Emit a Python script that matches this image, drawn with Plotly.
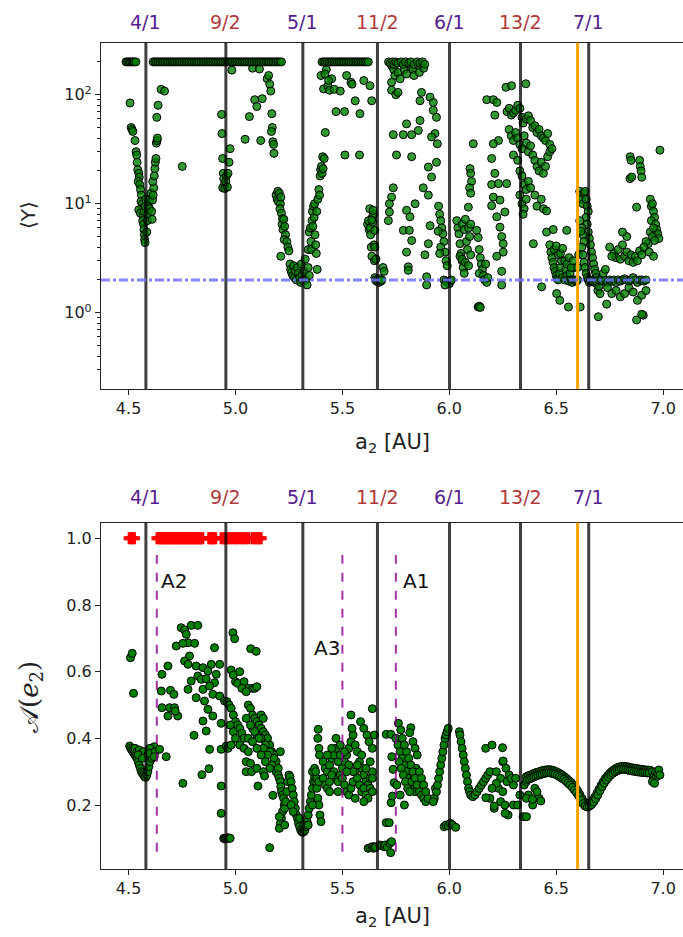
import plotly.graph_objects as go

# ---------------- data ----------------
res_labels = ["4/1", "9/2", "5/1", "11/2", "6/1", "13/2", "7/1"]
res_a = [4.581, 4.955, 5.315, 5.664, 6.001, 6.333, 6.652]
res_colors = ["#55208f", "#b03a3a", "#55208f", "#b03a3a", "#55208f", "#b03a3a", "#55208f"]
orange_a = [6.6]
y_level = [2.0]
anom_labels = ["A2", "A3", "A1"]
anom_a = [4.632, 5.5, 5.75]
anom_text_a = [4.64, 5.357, 5.774]
anom_text_v = [0.872, 0.672, 0.872]

# top panel: <Y> versus a2 (values at the 200 cap)
top_cap_a = [4.488, 4.495, 4.502, 4.508, 4.515, 4.521, 4.527, 4.534,
             4.615, 4.623, 4.631, 4.639, 4.647, 4.655, 4.663, 4.671, 4.679, 4.687, 4.695, 4.703,
             4.711, 4.719, 4.727, 4.735, 4.743, 4.751, 4.759, 4.767, 4.775, 4.783, 4.791, 4.799,
             4.807, 4.815, 4.823, 4.831, 4.839, 4.847, 4.855, 4.863, 4.871, 4.879, 4.887, 4.895,
             4.903, 4.911, 4.919, 4.927, 4.935, 4.943, 4.951, 4.959, 4.967, 4.975, 4.983, 4.991,
             4.999, 5.007, 5.015, 5.023, 5.031, 5.039, 5.047, 5.055, 5.063, 5.071, 5.079, 5.087,
             5.095, 5.103, 5.111, 5.119, 5.127, 5.135, 5.143, 5.151, 5.159, 5.167, 5.175, 5.183,
             5.191, 5.199, 5.207, 5.215,
             5.405, 5.413, 5.421, 5.429, 5.437, 5.445, 5.453, 5.461, 5.469, 5.477, 5.485, 5.493,
             5.501, 5.509, 5.517, 5.525, 5.533, 5.541, 5.549, 5.557, 5.565, 5.573, 5.581, 5.589,
             5.597, 5.605, 5.613, 5.621,
             5.716, 5.724, 5.735, 5.742, 5.75, 5.76, 5.775, 5.785, 5.795, 5.81, 5.82, 5.835,
             5.85, 5.862, 5.875, 5.885]
top_cap_v = [200, 200, 200, 200, 200, 200, 200, 200,
             200, 200, 200, 200, 200, 200, 200, 200, 200, 200, 200, 200,
             200, 200, 200, 200, 200, 200, 200, 200, 200, 200, 200, 200,
             200, 200, 200, 200, 200, 200, 200, 200, 200, 200, 200, 200,
             200, 200, 200, 200, 200, 200, 200, 200, 200, 200, 200, 200,
             200, 200, 200, 200, 200, 200, 200, 200, 200, 200, 200, 200,
             200, 200, 200, 200, 200, 200, 200, 200, 200, 200, 200, 200,
             200, 200, 200, 200,
             200, 200, 200, 200, 200, 200, 200, 200, 200, 200, 200, 200,
             200, 200, 200, 200, 200, 200, 200, 200, 200, 200, 200, 200,
             200, 200, 200, 200,
             200, 195, 200, 190, 200, 195, 200, 190, 200, 195, 200, 190,
             200, 195, 200, 190]

top_pts = [
    # around 4/1
    (4.507, 84), (4.512, 50), (4.516, 48), (4.52, 46), (4.53, 38), (4.535, 30), (4.538, 28),
    (4.54, 24), (4.543, 20.5), (4.548, 19), (4.55, 17.5), (4.545, 16), (4.552, 15), (4.556, 13.5),
    (4.56, 12), (4.558, 10.5), (4.565, 10), (4.562, 9), (4.548, 8.8), (4.555, 8.2), (4.568, 7.8),
    (4.566, 7), (4.57, 6.5), (4.572, 5.8), (4.574, 5.2), (4.575, 4.7), (4.577, 4.4), (4.573, 8.5),
    (4.578, 9.5), (4.58, 11), (4.585, 5.5), (4.588, 7), (4.59, 8), (4.592, 9.5), (4.595, 10.5),
    (4.598, 9), (4.60, 11), (4.605, 12.5), (4.61, 7.2), (4.608, 8.5), (4.612, 10.8), (4.615, 12),
    (4.618, 14), (4.613, 16), (4.62, 18), (4.623, 21), (4.625, 24), (4.628, 26), (4.63, 36),
    (4.633, 38), (4.635, 40), (4.632, 62), (4.638, 80), (4.652, 112), (4.668, 108), (4.751, 22),
    # around 9/2
    (4.935, 66), (4.937, 44), (4.94, 26), (4.943, 19), (4.945, 17), (4.948, 15), (4.94, 14),
    (4.95, 13.8), (4.955, 16), (4.958, 18), (4.962, 14.2), (4.965, 19), (4.97, 24), (4.975, 32),
    (4.983, 168), (5.045, 39), (5.065, 63), (5.08, 175), (5.09, 90), (5.1, 78), (5.112, 172),
    (5.118, 38), (5.125, 92), (5.148, 140), (5.16, 125), (5.165, 108), (5.17, 67), (5.172, 50),
    (5.168, 46), (5.175, 37), (5.178, 35), (5.18, 29), (5.155, 150),
    # around 5/1
    (5.19, 12), (5.195, 11), (5.2, 10.5), (5.198, 13), (5.205, 12.5), (5.21, 10), (5.212, 11.5),
    (5.208, 9), (5.215, 8.2), (5.22, 7.3), (5.218, 6.5), (5.222, 5.8), (5.226, 7.2), (5.23, 6.2),
    (5.234, 5.2), (5.228, 4.7), (5.24, 4.5), (5.245, 4), (5.25, 3.7), (5.212, 3.3), (5.255, 2.8),
    (5.258, 2.5), (5.262, 2.35), (5.268, 2.2), (5.272, 2.7), (5.276, 2.1), (5.28, 2.4),
    (5.285, 2.0), (5.29, 2.6), (5.295, 2.3), (5.3, 2.1), (5.305, 1.9), (5.308, 2.8), (5.312, 2.2),
    (5.315, 2.0), (5.318, 1.95), (5.322, 2.4), (5.326, 3.1), (5.33, 2.0), (5.335, 1.8),
    (5.34, 2.6), (5.345, 2.2), (5.34, 3.8), (5.345, 5.5), (5.35, 6), (5.353, 4.5), (5.355, 3.8),
    (5.358, 7), (5.36, 8.5), (5.362, 6.2), (5.365, 9.5), (5.368, 7.5), (5.37, 10), (5.372, 5.2),
    (5.375, 4.2), (5.378, 3.5), (5.38, 8.5), (5.382, 2.5), (5.385, 11), (5.39, 13.5), (5.393, 12),
    (5.396, 18), (5.398, 20.5), (5.402, 22), (5.405, 19), (5.408, 27), (5.41, 21), (5.415, 26),
    (5.42, 45), (5.412, 113), (5.4, 150), (5.425, 170),
    (5.418, 155), (5.432, 120), (5.44, 110), (5.45, 140), (5.462, 112), (5.47, 70), (5.49, 108),
    (5.51, 70), (5.512, 28), (5.52, 150), (5.54, 130), (5.545, 125), (5.56, 88), (5.435, 135),
    (5.6, 135), (5.629, 121), (5.582, 67), (5.637, 88), (5.58, 28),
    # around 11/2
    (5.618, 6.5), (5.622, 7), (5.625, 5.8), (5.628, 9), (5.63, 6), (5.632, 5.2), (5.635, 4),
    (5.638, 3.3), (5.64, 7.5), (5.642, 6.8), (5.645, 8), (5.648, 4.2), (5.65, 3.0), (5.652, 2.1),
    (5.655, 2.0), (5.66, 1.95), (5.665, 2.0), (5.67, 1.9), (5.675, 2.05), (5.68, 1.95),
    (5.685, 2.0), (5.69, 2.6), (5.695, 2.4), (5.644, 8.7), (5.637, 7.1), (5.652, 5.7),
    (5.652, 4.0), (5.657, 3.1),
    (5.73, 185), (5.74, 170), (5.745, 150), (5.73, 130), (5.76, 160), (5.77, 140), (5.79, 170),
    (5.8, 155), (5.82, 180), (5.83, 170), (5.835, 150), (5.855, 185), (5.86, 160), (5.88, 175),
    (5.73, 110), (5.75, 100), (5.76, 105), (5.8, 54), (5.785, 43), (5.738, 43), (5.824, 43),
    (5.855, 47), (5.863, 58), (5.87, 105), (5.863, 88), (5.91, 95), (5.925, 85), (5.925, 72),
    (5.94, 62), (5.933, 44), (5.917, 41), (5.944, 35.5), (5.753, 28), (5.824, 27),
    (5.738, 14), (5.73, 11.5), (5.72, 10), (5.72, 8.4), (5.715, 7),
    (5.8, 8.7), (5.816, 7.6), (5.785, 5.7), (5.813, 5.7), (5.824, 4.6), (5.8, 3.6), (5.808, 2.64),
    (5.808, 2.45), (5.84, 10), (5.878, 14), (5.902, 12), (5.91, 6.3), (5.902, 4.3), (5.886, 3.4),
    (5.894, 2.14), (5.894, 1.8), (5.902, 21.7), (5.917, 17.6), (5.94, 24),
    # around 6/1
    (5.95, 9.5), (5.955, 8), (5.96, 7), (5.965, 6), (5.97, 5.3), (5.975, 4.5), (5.96, 4),
    (5.98, 3.6), (5.985, 3.0), (5.99, 2.7), (5.955, 3.5), (5.948, 5.6), (5.975, 2.0),
    (5.985, 1.95), (5.993, 1.9), (6.0, 1.85), (6.005, 1.95), (6.01, 2.0), (5.98, 1.8),
    (6.035, 7), (6.04, 6), (6.045, 5.3), (6.05, 4.3), (6.055, 3.5), (6.06, 3.0), (6.065, 2.6),
    (6.07, 2.3), (6.06, 6.5), (6.07, 5.8), (6.075, 7.2), (6.08, 4.5), (6.085, 3.8), (6.09, 6.0),
    (6.095, 5.0), (6.1, 6.5), (6.05, 3.3), (6.06, 3.1), (6.075, 2.9), (6.09, 2.7), (6.1, 3.4),
    (6.097, 21), (6.1, 19), (6.104, 16), (6.095, 14), (6.1, 12.5), (6.089, 9.3), (6.112, 35.5),
    (6.128, 5.7), (6.135, 4.9), (6.14, 3.8), (6.145, 3.2), (6.15, 2.8), (6.155, 2.5), (6.14, 2.3),
    (6.16, 2.2), (6.165, 2.0), (6.135, 1.13), (6.14, 1.15), (6.145, 1.12), (6.17, 2.8),
    (6.175, 1.9), (6.18, 2.1),
    (6.175, 90), (6.206, 90), (6.222, 85), (6.213, 65), (6.23, 38), (6.206, 35.5), (6.198, 26),
    (6.213, 19), (6.198, 15), (6.23, 15.3), (6.206, 11.5), (6.198, 9.6), (6.237, 10.8),
    (6.26, 8.4), (6.222, 7.6), (6.237, 6.1), (6.245, 5), (6.252, 4.3), (6.252, 3.6), (6.222, 3.3),
    (6.245, 2.4), (6.245, 1.8), (6.268, 15.3),
    # around 13/2
    (6.265, 117), (6.291, 121), (6.358, 126),
    (6.27, 70), (6.28, 75), (6.29, 65), (6.3, 68), (6.31, 72), (6.32, 80), (6.33, 75), (6.34, 62),
    (6.345, 55), (6.36, 60), (6.37, 64), (6.38, 58), (6.39, 50), (6.4, 52), (6.41, 45), (6.42, 48),
    (6.43, 42), (6.44, 40), (6.45, 38), (6.46, 44), (6.47, 35), (6.28, 48), (6.29, 42), (6.3, 38),
    (6.31, 45), (6.32, 40), (6.33, 35), (6.34, 32), (6.35, 42), (6.36, 36), (6.37, 30), (6.38, 34),
    (6.39, 28), (6.4, 25), (6.41, 22), (6.42, 20), (6.43, 24), (6.44, 19), (6.45, 22), (6.46, 27),
    (6.47, 30), (6.48, 32), (6.3, 28), (6.32, 25), (6.33, 20), (6.34, 18), (6.35, 15),
    (6.36, 13.5), (6.37, 16), (6.38, 14), (6.33, 12), (6.34, 10), (6.35, 9), (6.345, 8),
    (6.36, 11), (6.4, 12), (6.41, 9.5), (6.43, 11), (6.44, 9), (6.455, 8.6),
    (6.393, 4.3), (6.432, 1.73), (6.455, 5.5), (6.486, 5.8), (6.549, 5.7),
    # around 7/1
    (6.47, 4.2), (6.475, 3.6), (6.48, 3.2), (6.485, 2.9), (6.49, 2.6), (6.495, 2.4), (6.5, 2.2),
    (6.505, 2.05), (6.51, 2.0), (6.515, 2.3), (6.52, 2.6), (6.525, 3.0), (6.53, 2.1), (6.54, 2.0),
    (6.545, 2.5), (6.55, 2.2), (6.555, 2.0), (6.56, 1.95), (6.565, 2.3), (6.57, 2.0), (6.575, 1.9),
    (6.58, 2.0), (6.585, 2.6), (6.59, 2.0), (6.595, 1.95), (6.6, 2.0), (6.49, 3.8), (6.5, 4.1),
    (6.51, 3.4), (6.52, 3.5), (6.53, 3.9), (6.54, 3.0), (6.55, 2.8), (6.56, 3.2), (6.57, 2.6),
    (6.58, 3.0), (6.6, 2.6), (6.605, 3.4), (6.502, 1.5), (6.517, 1.3), (6.557, 1.13), (6.612, 1.13),
    (6.61, 13), (6.615, 12), (6.62, 11), (6.625, 10), (6.63, 12.5), (6.635, 13), (6.64, 11),
    (6.645, 9.5), (6.65, 8.5), (6.64, 7.5), (6.645, 6.5), (6.65, 5.5), (6.655, 4.8), (6.66, 4.2),
    (6.665, 3.6), (6.67, 3.2), (6.675, 2.8), (6.68, 2.5), (6.685, 2.3), (6.69, 2.1), (6.62, 6.0),
    (6.625, 5.2), (6.63, 4.5), (6.61, 7), (6.615, 5.6), (6.62, 4.0), (6.625, 3.4), (6.63, 2.9),
    (6.635, 2.6), (6.64, 2.3), (6.645, 2.1), (6.65, 2.0), (6.655, 1.9), (6.66, 2.0), (6.67, 1.95),
    (6.68, 1.9), (6.69, 1.85), (6.695, 1.6), (6.7, 1.75), (6.705, 1.5), (6.69, 1.95), (6.7, 2.0),
    (6.697, 0.92),
    (6.71, 2.0), (6.72, 1.95), (6.73, 2.0), (6.74, 1.9), (6.75, 2.0), (6.76, 1.95), (6.77, 2.0),
    (6.78, 1.9), (6.79, 2.0), (6.8, 1.95), (6.81, 2.0), (6.82, 2.05), (6.83, 2.0), (6.84, 1.95),
    (6.85, 2.0), (6.86, 2.1), (6.87, 2.0), (6.88, 1.9), (6.89, 2.0), (6.9, 2.0), (6.91, 1.95),
    (6.92, 2.0), (6.72, 2.3), (6.73, 2.5), (6.74, 1.7), (6.76, 1.5), (6.78, 1.6), (6.8, 1.4),
    (6.82, 1.5), (6.84, 1.7), (6.86, 1.55), (6.88, 1.3), (6.9, 1.45), (6.92, 1.6),
    (6.876, 0.86), (6.907, 0.95), (6.9, 0.97), (6.736, 1.2),
    (6.77, 3.5), (6.78, 3.2), (6.79, 3.8), (6.8, 3.1), (6.81, 4.2), (6.82, 3.3), (6.83, 3.6),
    (6.84, 3.0), (6.85, 3.4), (6.86, 2.9), (6.87, 3.3), (6.88, 3.0), (6.89, 3.7), (6.9, 3.4),
    (6.75, 4.0), (6.76, 3.3), (6.83, 5.0), (6.81, 5.5),
    (6.846, 27), (6.85, 25), (6.845, 17), (6.89, 25), (6.893, 22), (6.897, 20), (6.9, 17.5),
    (6.985, 31), (6.876, 9.3), (6.853, 17.6),
    (6.94, 11), (6.945, 9.5), (6.95, 10), (6.955, 8.5), (6.96, 7.5), (6.945, 7), (6.965, 6.5),
    (6.97, 5.8), (6.975, 5.3), (6.98, 4.8), (6.94, 5.5), (6.95, 5.0), (6.96, 4.6), (6.955, 6),
    (6.93, 4.3), (6.92, 4.5), (6.91, 4.0), (6.935, 3.6), (6.955, 3.3),
]

# bottom panel: A(e2) versus a2
bot_pts = [
    (4.509, 0.642), (4.517, 0.655), (4.523, 0.535),
    (4.505, 0.377), (4.51, 0.37), (4.515, 0.365), (4.52, 0.36), (4.525, 0.355), (4.53, 0.35),
    (4.535, 0.345), (4.54, 0.34), (4.545, 0.33), (4.55, 0.32), (4.555, 0.31), (4.56, 0.3),
    (4.565, 0.295), (4.57, 0.29), (4.575, 0.285), (4.58, 0.283), (4.585, 0.29), (4.59, 0.3),
    (4.595, 0.315), (4.6, 0.33), (4.605, 0.345), (4.61, 0.36), (4.615, 0.37), (4.62, 0.375),
    (4.53, 0.37), (4.54, 0.36), (4.55, 0.365), (4.56, 0.355), (4.57, 0.36), (4.59, 0.35),
    (4.6, 0.37), (4.61, 0.34), (4.545, 0.35), (4.565, 0.34), (4.6, 0.355), (4.625, 0.36),
    (4.62, 0.345), (4.645, 0.367), (4.676, 0.345),
    (4.656, 0.592), (4.653, 0.542), (4.656, 0.492), (4.684, 0.617), (4.696, 0.544),
    (4.712, 0.532), (4.692, 0.492), (4.715, 0.492), (4.684, 0.467), (4.73, 0.467),
    (4.718, 0.482), (4.746, 0.732), (4.762, 0.725), (4.793, 0.739), (4.824, 0.739),
    (4.77, 0.712), (4.778, 0.687), (4.723, 0.677), (4.754, 0.685), (4.809, 0.685),
    (4.902, 0.672), (4.785, 0.647), (4.762, 0.632), (4.778, 0.622), (4.816, 0.617),
    (4.848, 0.612), (4.887, 0.622), (4.926, 0.622), (4.871, 0.602), (4.91, 0.592),
    (4.793, 0.572), (4.824, 0.587), (4.84, 0.577), (4.863, 0.579), (4.902, 0.567),
    (4.778, 0.547), (4.816, 0.522), (4.848, 0.547), (4.879, 0.557), (4.894, 0.532),
    (4.926, 0.527), (4.949, 0.512), (4.855, 0.512), (4.871, 0.487), (4.848, 0.452),
    (4.863, 0.422), (4.894, 0.467), (4.933, 0.445), (4.806, 0.409), (4.879, 0.367),
    (4.933, 0.367), (4.957, 0.377), (4.876, 0.309), (4.843, 0.291), (4.754, 0.265),
    (4.933, 0.257), (4.933, 0.175),
    (4.945, 0.1), (4.95, 0.098), (4.955, 0.1), (4.96, 0.1), (4.965, 0.102), (4.97, 0.1),
    (4.975, 0.1),
    (4.988, 0.717), (4.996, 0.699), (5.071, 0.669), (5.097, 0.661),
    (4.98, 0.605), (4.99, 0.59), (5.0, 0.57), (5.01, 0.565), (5.02, 0.6), (5.04, 0.57),
    (5.06, 0.55), (5.08, 0.55), (5.09, 0.55), (5.1, 0.555), (5.03, 0.55), (5.05, 0.54),
    (4.96, 0.51), (4.97, 0.5), (4.98, 0.49), (4.99, 0.47), (5.0, 0.45), (5.01, 0.44),
    (5.02, 0.43), (5.03, 0.415), (5.04, 0.4), (4.975, 0.44), (4.99, 0.42), (5.0, 0.4),
    (4.965, 0.37), (4.98, 0.38), (5.02, 0.38), (5.04, 0.37), (5.06, 0.36), (5.05, 0.33),
    (5.07, 0.325),
    (5.06, 0.5), (5.07, 0.49), (5.08, 0.47), (5.09, 0.46), (5.1, 0.45), (5.11, 0.44),
    (5.12, 0.43), (5.13, 0.42), (5.14, 0.41), (5.15, 0.4), (5.16, 0.38), (5.17, 0.36),
    (5.18, 0.35), (5.19, 0.33), (5.08, 0.43), (5.1, 0.41), (5.12, 0.4), (5.14, 0.38),
    (5.16, 0.36), (5.18, 0.34), (5.05, 0.46), (5.07, 0.44), (5.09, 0.42), (5.11, 0.4),
    (5.13, 0.37), (5.15, 0.35), (5.17, 0.32), (5.19, 0.3), (5.2, 0.31), (5.21, 0.36),
    (5.12, 0.47), (5.13, 0.46), (5.06, 0.4), (5.08, 0.39), (5.1, 0.37), (5.12, 0.35),
    (5.14, 0.33), (5.16, 0.31), (5.05, 0.3), (5.075, 0.3), (5.1, 0.31), (5.13, 0.3),
    (5.136, 0.287), (5.105, 0.257), (5.175, 0.229), (5.16, 0.072),
    # around 5/1
    (5.2, 0.29), (5.205, 0.28), (5.21, 0.27), (5.212, 0.255), (5.215, 0.24), (5.22, 0.23),
    (5.225, 0.22), (5.228, 0.2), (5.22, 0.18), (5.215, 0.16), (5.21, 0.145), (5.205, 0.13),
    (5.23, 0.19), (5.235, 0.21), (5.24, 0.24), (5.245, 0.27), (5.25, 0.29), (5.255, 0.285),
    (5.26, 0.27), (5.265, 0.25), (5.27, 0.23), (5.275, 0.21), (5.28, 0.19), (5.285, 0.17),
    (5.29, 0.16), (5.295, 0.145), (5.3, 0.135), (5.305, 0.125), (5.31, 0.12), (5.315, 0.118),
    (5.32, 0.12), (5.325, 0.125), (5.33, 0.135), (5.335, 0.15), (5.34, 0.17), (5.345, 0.19),
    (5.35, 0.21), (5.355, 0.23), (5.36, 0.25), (5.365, 0.27), (5.37, 0.285), (5.375, 0.27),
    (5.38, 0.25), (5.385, 0.22), (5.39, 0.2), (5.395, 0.17), (5.4, 0.15), (5.205, 0.165),
    (5.23, 0.14), (5.26, 0.2), (5.27, 0.18), (5.3, 0.16), (5.32, 0.14), (5.34, 0.14),
    (5.36, 0.2), (5.38, 0.28), (5.39, 0.27), (5.36, 0.3), (5.37, 0.31), (5.375, 0.3),
    (5.387, 0.427), (5.385, 0.4), (5.39, 0.37), (5.393, 0.35),
    # between 5/1 and 11/2
    (5.41, 0.33), (5.42, 0.31), (5.43, 0.3), (5.44, 0.32), (5.45, 0.34), (5.46, 0.3),
    (5.47, 0.28), (5.48, 0.27), (5.49, 0.29), (5.5, 0.31), (5.51, 0.33), (5.52, 0.35),
    (5.53, 0.37), (5.54, 0.39), (5.55, 0.41), (5.56, 0.38), (5.57, 0.36), (5.58, 0.33),
    (5.59, 0.31), (5.6, 0.29), (5.61, 0.27), (5.62, 0.26), (5.63, 0.28), (5.64, 0.3),
    (5.41, 0.28), (5.42, 0.26), (5.43, 0.25), (5.44, 0.27), (5.45, 0.29), (5.46, 0.35),
    (5.47, 0.37), (5.48, 0.33), (5.49, 0.35), (5.5, 0.28), (5.51, 0.26), (5.52, 0.24),
    (5.53, 0.23), (5.54, 0.25), (5.55, 0.27), (5.56, 0.3), (5.57, 0.28), (5.58, 0.26),
    (5.59, 0.24), (5.6, 0.25), (5.61, 0.23), (5.62, 0.22), (5.63, 0.25), (5.64, 0.24),
    (5.43, 0.35), (5.45, 0.37), (5.47, 0.4), (5.49, 0.38), (5.51, 0.36), (5.53, 0.32),
    (5.55, 0.3), (5.57, 0.32), (5.59, 0.35), (5.61, 0.31), (5.63, 0.33), (5.44, 0.24),
    (5.48, 0.24), (5.52, 0.3), (5.56, 0.22), (5.6, 0.21), (5.64, 0.28), (5.585, 0.45),
    (5.6, 0.43), (5.615, 0.41), (5.625, 0.39), (5.64, 0.37), (5.65, 0.41), (5.64, 0.489),
    (5.545, 0.43), (5.54, 0.47),
    (5.62, 0.07), (5.63, 0.072), (5.64, 0.075), (5.645, 0.07), (5.65, 0.075), (5.655, 0.073),
    (5.705, 0.147), (5.705, 0.412),
    # around 11/2 and 6/1
    (5.675, 0.08), (5.685, 0.078), (5.695, 0.075), (5.7, 0.08), (5.71, 0.073), (5.722, 0.085),
    (5.726, 0.057), (5.73, 0.09), (5.719, 0.147), (5.727, 0.412), (5.731, 0.345),
    (5.728, 0.207), (5.734, 0.227), (5.737, 0.307), (5.742, 0.267), (5.762, 0.445),
    (5.773, 0.425), (5.82, 0.432), (5.815, 0.417),
    (5.75, 0.4), (5.76, 0.38), (5.77, 0.36), (5.78, 0.34), (5.79, 0.32), (5.8, 0.3), (5.81, 0.28),
    (5.82, 0.26), (5.83, 0.25), (5.84, 0.24), (5.765, 0.33), (5.775, 0.31), (5.785, 0.29),
    (5.795, 0.27), (5.805, 0.25), (5.815, 0.24), (5.825, 0.27), (5.835, 0.29), (5.845, 0.31),
    (5.8, 0.36), (5.81, 0.34), (5.82, 0.32), (5.83, 0.3), (5.84, 0.28), (5.85, 0.26),
    (5.86, 0.24), (5.87, 0.23), (5.88, 0.22), (5.89, 0.21), (5.9, 0.22), (5.78, 0.4),
    (5.79, 0.38), (5.755, 0.26), (5.77, 0.23), (5.79, 0.2), (5.83, 0.39), (5.84, 0.37),
    (5.85, 0.35), (5.86, 0.3), (5.87, 0.28), (5.88, 0.26), (5.89, 0.24),
    (5.93, 0.22), (5.925, 0.21), (5.935, 0.25), (5.94, 0.24), (5.945, 0.26), (5.95, 0.28),
    (5.955, 0.3), (5.96, 0.32), (5.965, 0.34), (5.97, 0.36), (5.975, 0.38), (5.98, 0.4),
    (5.985, 0.41), (5.99, 0.42), (5.995, 0.43),
    (5.976, 0.135), (5.985, 0.14), (5.995, 0.137), (6.005, 0.145), (6.015, 0.14), (6.03, 0.133),
    (6.047, 0.42), (6.05, 0.41), (6.055, 0.39), (6.06, 0.37), (6.065, 0.35), (6.07, 0.33),
    (6.075, 0.31), (6.08, 0.29), (6.085, 0.27), (6.09, 0.25), (6.095, 0.24), (6.1, 0.23),
    (6.11, 0.225), (6.12, 0.23), (6.13, 0.24), (6.14, 0.25), (6.15, 0.26), (6.16, 0.27),
    (6.17, 0.28), (6.18, 0.29), (6.19, 0.3),
    # around 13/2
    (6.17, 0.37), (6.2, 0.38), (6.22, 0.3), (6.24, 0.28), (6.19, 0.22), (6.21, 0.19),
    (6.23, 0.25), (6.25, 0.24), (6.27, 0.27), (6.3, 0.26), (6.3, 0.2), (6.32, 0.2), (6.33, 0.23),
    (6.35, 0.26), (6.36, 0.27), (6.38, 0.28), (6.4, 0.25), (6.42, 0.22), (6.37, 0.23),
    (6.39, 0.2), (6.41, 0.24), (6.25, 0.33), (6.265, 0.31), (6.28, 0.29), (6.29, 0.28),
    (6.31, 0.28), (6.22, 0.265), (6.2, 0.25), (6.24, 0.21), (6.275, 0.17), (6.26, 0.2),
    (6.345, 0.165), (6.36, 0.22), (6.249, 0.372), (6.252, 0.332), (6.171, 0.222),
    (6.21, 0.197), (6.261, 0.175), (6.361, 0.165), (6.428, 0.212), (6.389, 0.217),
    # smooth band beyond 13/2
    (6.36, 0.285), (6.37, 0.288), (6.38, 0.29), (6.39, 0.293), (6.40, 0.296), (6.41, 0.298),
    (6.42, 0.3), (6.43, 0.302), (6.44, 0.304), (6.45, 0.305), (6.46, 0.306), (6.47, 0.306),
    (6.48, 0.305), (6.49, 0.303), (6.50, 0.3), (6.51, 0.297), (6.52, 0.293), (6.53, 0.289),
    (6.54, 0.284), (6.55, 0.279), (6.56, 0.273), (6.57, 0.267), (6.58, 0.26), (6.59, 0.252),
    (6.60, 0.243), (6.61, 0.232), (6.62, 0.22), (6.63, 0.21), (6.64, 0.204), (6.65, 0.203),
    (6.66, 0.207), (6.67, 0.214), (6.68, 0.223), (6.69, 0.235), (6.70, 0.247), (6.71, 0.259),
    (6.72, 0.27), (6.73, 0.28), (6.74, 0.288), (6.75, 0.295), (6.76, 0.301), (6.77, 0.306),
    (6.78, 0.31), (6.79, 0.313), (6.80, 0.315), (6.81, 0.316), (6.82, 0.316), (6.83, 0.315),
    (6.84, 0.314), (6.85, 0.312), (6.86, 0.311), (6.87, 0.31), (6.88, 0.309), (6.89, 0.308),
    (6.90, 0.307), (6.91, 0.306), (6.92, 0.305), (6.93, 0.305), (6.94, 0.304),
    (6.365, 0.276), (6.375, 0.279), (6.385, 0.281), (6.395, 0.284), (6.405, 0.287),
    (6.415, 0.289), (6.425, 0.291), (6.435, 0.293), (6.445, 0.295), (6.455, 0.296),
    (6.465, 0.297), (6.475, 0.296), (6.485, 0.294), (6.495, 0.292), (6.505, 0.289),
    (6.515, 0.285), (6.525, 0.281), (6.535, 0.277), (6.545, 0.272), (6.555, 0.266),
    (6.565, 0.26), (6.575, 0.253), (6.585, 0.245), (6.595, 0.237), (6.605, 0.227),
    (6.615, 0.215), (6.625, 0.204), (6.635, 0.197), (6.645, 0.194), (6.655, 0.196),
    (6.665, 0.201), (6.675, 0.209), (6.685, 0.219), (6.695, 0.23), (6.705, 0.243),
    (6.715, 0.255), (6.725, 0.266), (6.735, 0.275), (6.745, 0.283), (6.755, 0.29),
    (6.765, 0.295), (6.775, 0.299), (6.785, 0.303), (6.795, 0.305), (6.805, 0.307),
    (6.815, 0.307), (6.825, 0.306), (6.835, 0.305), (6.845, 0.303), (6.855, 0.302),
    (6.865, 0.301), (6.875, 0.3), (6.885, 0.299), (6.895, 0.298), (6.905, 0.297),
    (6.915, 0.297), (6.925, 0.296), (6.935, 0.296),
    (6.95, 0.3), (6.955, 0.28), (6.96, 0.29), (6.965, 0.3), (6.97, 0.285), (6.975, 0.295),
    (6.98, 0.305), (6.985, 0.29), (6.95, 0.27), (6.96, 0.265),
]

red_a = [4.505, 4.515, 4.525,
         4.635, 4.642, 4.649, 4.656, 4.663, 4.670, 4.677, 4.684, 4.691, 4.698, 4.705, 4.712,
         4.719, 4.726, 4.733, 4.740, 4.747, 4.754, 4.761, 4.768, 4.775, 4.782, 4.789, 4.796,
         4.803, 4.810, 4.817, 4.824, 4.831, 4.838, 4.845, 4.877, 4.884, 4.891, 4.898, 4.905,
         4.935, 4.945, 4.955, 4.965, 4.975, 4.990, 5.000, 5.010, 5.025, 5.035, 5.050, 5.060,
         5.080, 5.090, 5.100, 5.110, 5.118]
red_v = [1.0] * len(red_a)

top_a = [p[0] for p in top_pts] + top_cap_a
top_v = [p[1] for p in top_pts] + top_cap_v
bot_a = [p[0] for p in bot_pts]
bot_v = [p[1] for p in bot_pts]

# ---------------- figure ----------------
FONT = "DejaVu Sans"
H = 937.0
top_dom = [1 - 389 / H, 1 - 42.7 / H]
bot_dom = [1 - 869 / H, 1 - 522.7 / H]
xr = [4.371, 7.093]

fig = go.Figure()
fig.add_trace(go.Scatter(
    x=top_a, y=top_v, mode="markers", xaxis="x", yaxis="y",
    marker=dict(size=8, color="rgba(0,128,0,0.8)", line=dict(color="black", width=1)),
    hoverinfo="skip"))
fig.add_trace(go.Scatter(
    x=bot_a, y=bot_v, mode="markers", xaxis="x2", yaxis="y2",
    marker=dict(size=8, color="#008000", line=dict(color="black", width=1)),
    hoverinfo="skip"))
fig.add_trace(go.Scatter(
    x=red_a, y=red_v, mode="markers", xaxis="x2", yaxis="y2",
    marker=dict(symbol="cross", size=10, color="red", line=dict(width=0)),
    hoverinfo="skip"))

axis_common = dict(showline=True, linecolor="#222", linewidth=1.2, ticks="outside",
                   ticklen=5, tickwidth=1, tickcolor="#222", showgrid=False, zeroline=False,
                   tickfont=dict(family=FONT, size=16, color="#222"))

xt = [4.5, 5.0, 5.5, 6.0, 6.5, 7.0]
xtt = ["4.5", "5.0", "5.5", "6.0", "6.5", "7.0"]

fig.update_layout(
    width=683, height=937, margin=dict(l=101, r=0, t=0, b=0),
    paper_bgcolor="white", plot_bgcolor="white", showlegend=False,
    xaxis=dict(domain=[0, 1], anchor="y", range=xr, mirror=True, tickvals=xt, ticktext=xtt,
               **axis_common),
    yaxis=dict(domain=top_dom, anchor="x", type="log", range=[-0.699, 2.477],
               tickvals=[1, 10, 100], ticktext=["10<sup>0</sup>", "10<sup>1</sup>", "10<sup>2</sup>"],
               minor=dict(ticks="outside", ticklen=3, tickcolor="#222", tickmode="array",
                          tickvals=[0.3, 0.4, 0.5, 0.6, 0.7, 0.8, 0.9, 2, 3, 4, 5, 6, 7, 8, 9,
                                    20, 30, 40, 50, 60, 70, 80, 90, 200]),
               **axis_common),
    xaxis2=dict(domain=[0, 1], anchor="y2", range=xr, mirror=True, tickvals=xt, ticktext=xtt,
                **axis_common),
    yaxis2=dict(domain=bot_dom, anchor="x2", range=[0.008, 1.047],
                tickvals=[0.2, 0.4, 0.6, 0.8, 1.0], ticktext=["0.2", "0.4", "0.6", "0.8", "1.0"],
                **axis_common),
)

shapes = []
for xa, ya in (("x", "y"), ("x2", "y2")):
    for a in res_a:
        shapes.append(dict(type="line", xref=xa, yref=ya + " domain", x0=a, x1=a, y0=0, y1=1,
                           line=dict(color="rgba(0,0,0,0.75)", width=3), layer="above"))
    for a in orange_a:
        shapes.append(dict(type="line", xref=xa, yref=ya + " domain", x0=a, x1=a, y0=0, y1=1,
                           line=dict(color="#FFA500", width=3), layer="above"))
for v in y_level:
    shapes.append(dict(type="line", xref="x domain", yref="y", x0=0, x1=1, y0=v, y1=v,
                       line=dict(color="rgba(110,110,255,0.85)", width=3, dash="dashdot"),
                       layer="above"))
for a in anom_a:
    shapes.append(dict(type="line", xref="x2", yref="y2", x0=a, x1=a, y0=0.06, y1=0.95,
                       line=dict(color="rgba(139,0,139,0.8)", width=2, dash="dash"),
                       layer="above"))
fig.update_layout(shapes=shapes)

ann = []
for lab, a, c in zip(res_labels, res_a, res_colors):
    ann.append(dict(text=lab, x=a, xref="x", y=1 - 22 / H, yref="paper", showarrow=False,
                    font=dict(family=FONT, size=19, color=c), xanchor="center", yanchor="middle"))
    ann.append(dict(text=lab, x=a, xref="x2", y=1 - 497 / H, yref="paper", showarrow=False,
                    font=dict(family=FONT, size=19, color=c), xanchor="center", yanchor="middle"))
for lab, a, v in zip(anom_labels, anom_text_a, anom_text_v):
    ann.append(dict(text=lab, x=a, xref="x2", y=v, yref="y2", showarrow=False,
                    font=dict(family=FONT, size=20, color="#111"), xanchor="left",
                    yanchor="middle"))
ann.append(dict(text="a<sub>2</sub> [AU]", x=0.5, xref="x domain", y=1 - 443 / H, yref="paper",
                showarrow=False, font=dict(family=FONT, size=21, color="#222"),
                xanchor="center", yanchor="middle"))
ann.append(dict(text="a<sub>2</sub> [AU]", x=0.5, xref="x2 domain", y=1 - 917 / H, yref="paper",
                showarrow=False, font=dict(family=FONT, size=21, color="#222"),
                xanchor="center", yanchor="middle"))
ann.append(dict(text="⟨Y⟩", x=(28 - 101) / 582.0, xref="paper", y=1 - 215 / H, yref="paper",
                showarrow=False, textangle=-90, font=dict(family=FONT, size=20, color="#222"),
                xanchor="center", yanchor="middle"))
ann.append(dict(text="𝒜(<i>e</i><sub>2</sub>)", x=(30 - 101) / 582.0, xref="paper",
                y=1 - 697 / H, yref="paper", showarrow=False, textangle=-90,
                font=dict(family="DejaVu Serif", size=26, color="#222"),
                xanchor="center", yanchor="middle"))
fig.update_layout(annotations=ann)

fig.write_html("out.html")
